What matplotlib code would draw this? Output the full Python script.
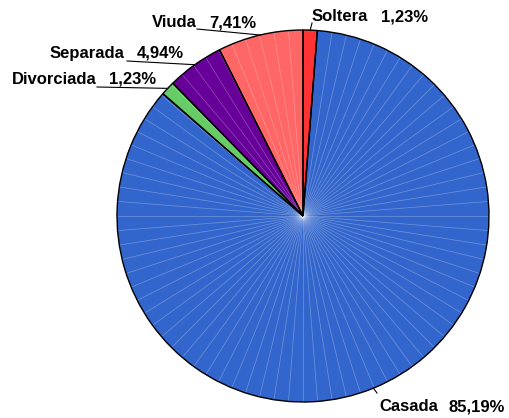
import matplotlib.pyplot as plt
import numpy as np

labels = ["Soltera", "Casada", "Divorciada", "Separada", "Viuda"]
values = [1.23, 85.19, 1.23, 4.94, 7.41]
colors = ["#FF3333", "#3366CC", "#66CC66", "#660099", "#FF6666"]

plt.rcParams['font.family'] = ['Liberation Sans', 'DejaVu Sans']

W, H = 510, 418
fig = plt.figure(figsize=(W / 100, H / 100), dpi=100)
ax = fig.add_axes([0, 0, 1, 1])

cx, cy, r = 303, H - 216, 186
wedges, _ = ax.pie(values, colors=colors, startangle=90, counterclock=False,
                   center=(cx, cy), radius=r,
                   wedgeprops=dict(edgecolor='none', linewidth=0))
for w in wedges:
    w.set_zorder(1)

# faint radial streaks like the original export
for a in np.arange(0, 360, 4.5):
    t = np.deg2rad(a)
    ax.plot([cx, cx + (r - 1) * np.cos(t)], [cy, cy + (r - 1) * np.sin(t)],
            color='white', lw=0.5, alpha=0.3, zorder=2)

outline, _ = ax.pie(values, colors=["white"] * len(values), startangle=90,
                    counterclock=False, center=(cx, cy), radius=r,
                    wedgeprops=dict(edgecolor='black', linewidth=1.0, fill=False))
for w in outline:
    w.set_zorder(3)

# name left x, percent right x, baseline y (pixels from top), leader start
name_x = [312, 379, 12, 50, 152]
pct_x = [428, 505, 156, 184, 256]
base_y = [21, 411, 84, 58, 27]
line_start = [(312, 23), (377, 393), (97, 87), (127, 61), (197, 29)]

for i, w in enumerate(wedges):
    mid = np.deg2rad((w.theta1 + w.theta2) / 2)
    ex, ey = cx + r * np.cos(mid), cy + r * np.sin(mid)
    lx, ly = line_start[i]
    ax.plot([lx, ex], [H - ly, ey], color='black', lw=0.8, zorder=4)
    ax.text(name_x[i], H - base_y[i], labels[i], ha='left', va='baseline',
            fontsize=12, fontweight='bold', zorder=5)
    ax.text(pct_x[i], H - base_y[i], f"{values[i]:.2f}%".replace('.', ','),
            ha='right', va='baseline', fontsize=12, fontweight='bold', zorder=5)

ax.set_xlim(0, W)
ax.set_ylim(0, H)
ax.set_aspect('equal')
ax.axis('off')

fig.savefig('out.png', dpi=100)
